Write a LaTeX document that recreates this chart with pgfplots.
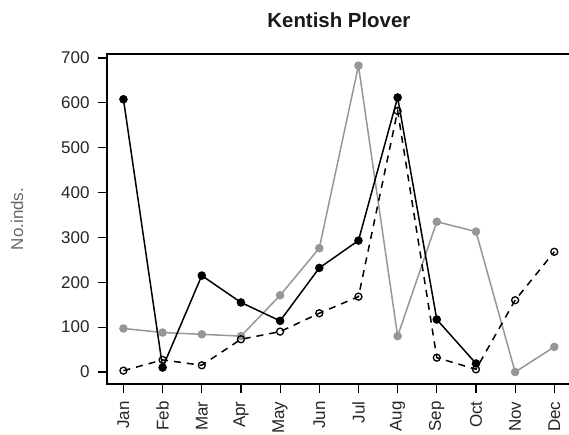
\documentclass[border=0pt]{standalone}
\usepackage{pgfplots}
\pgfplotsset{compat=1.18}
\usepackage{fontspec}
\setmainfont{Liberation Sans}
\definecolor{lgray}{RGB}{150,150,150}
\begin{document}
\begin{tikzpicture}
\begin{axis}[
  scale only axis,
  width=470.8pt, height=330pt,
  xmin=-0.42, xmax=11.6,
  ymin=-26.75, ymax=708.9,
  clip=false,
  axis line style={line width=1.4pt},
  xtick={0,1,2,3,4,5,6,7,8,9,10,11},
  xticklabels={Jan,Feb,Mar,Apr,May,Jun,Jul,Aug,Sep,Oct,Nov,Dec},
  ytick={0,100,200,300,400,500,600,700},
  xtick pos=bottom, ytick pos=left,
  tick align=outside,
  major tick length=9pt,
  every tick/.style={black, line width=1.2pt},
  /pgf/number format/assume math mode=true,
  ticklabel style={font=\fontsize{17}{20}\selectfont, text=black!85},
  xticklabel style={rotate=90, anchor=east},
  xticklabel shift=5pt,
  yticklabel shift=5pt,
]
\addplot[lgray, line width=1.5pt, mark=*, mark size=3.5pt, mark options={fill=lgray, draw=lgray}] coordinates {
(0,97) (1,88) (2,84) (3,80) (4,171) (5,276) (6,683) (7,80) (8,335) (9,313) (10,0) (11,56)};
\addplot[black, line width=1.5pt, mark=*, mark size=3.5pt, mark options={fill=black}] coordinates {
(0,608) (1,10) (2,215) (3,155) (4,114) (5,232) (6,293) (7,612) (8,117) (9,19)};
\addplot[black, line width=1.5pt, dash pattern=on 7pt off 6pt, mark=o, mark size=3.5pt, mark options={solid, line width=1.3pt, fill=white}] coordinates {
(0,3) (1,27) (2,15) (3,73) (4,90) (5,131) (6,168) (7,582) (8,32) (9,6) (10,160) (11,268)};
\coordinate (BL) at (rel axis cs:0,0);
\node[font=\fontsize{20.4}{24}\selectfont\bfseries, text=black!90] at (axis cs:5.5,708.9) [yshift=34pt] {Kentish Plover};
\path (rel axis cs:0,0.5) ++(-90pt,0pt) node[rotate=90, font=\fontsize{17}{20}\selectfont, text=black!60] {No.inds.};
\end{axis}
\pgfresetboundingbox
\path[use as bounding box] (BL) ++(-107pt,-50pt) rectangle ++(569pt,434pt);
\end{tikzpicture}
\end{document}
